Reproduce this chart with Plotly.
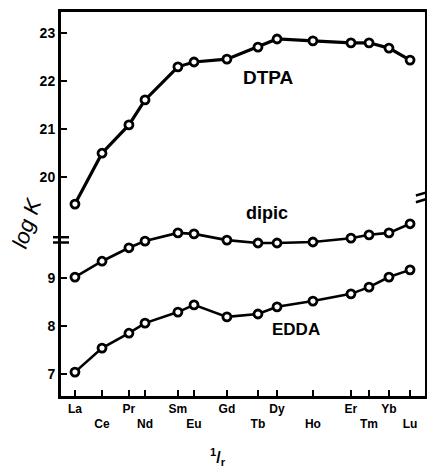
import plotly.graph_objects as go

elements = ["La", "Ce", "Pr", "Nd", "Sm", "Eu", "Gd", "Tb", "Dy", "Ho", "Er", "Tm", "Yb", "Lu"]
inv_r = [0.9400, 0.9590, 0.9779, 0.9892, 1.0123, 1.0236, 1.0467, 1.0685, 1.0819, 1.1071, 1.1338, 1.1465, 1.1605, 1.1753]
dtpa = [19.44, 20.50, 21.09, 21.61, 22.30, 22.40, 22.46, 22.71, 22.88, 22.84, 22.80, 22.80, 22.69, 22.44]
dipic = [9.02, 9.35, 9.63, 9.77, 9.94, 9.92, 9.79, 9.73, 9.73, 9.75, 9.83, 9.90, 9.94, 10.13]
edda = [7.04, 7.54, 7.85, 8.06, 8.29, 8.44, 8.19, 8.25, 8.40, 8.52, 8.67, 8.81, 9.02, 9.17]
low_ticks = [7, 8, 9]
high_ticks = [20, 21, 22, 23]
BREAK_OFFSET = 8.9  # upper (DTPA) segment shifted down past the axis break

INK = "#000000"
FONT = "Liberation Sans"
XRANGE = [0.9302, 1.1858]

fig = go.Figure()

def add_series(vals, width):
    fig.add_trace(go.Scatter(
        x=inv_r, y=vals, mode="lines+markers",
        line=dict(color=INK, width=width),
        marker=dict(symbol="circle", size=8, color="white", line=dict(color=INK, width=2.8)),
        showlegend=False, hoverinfo="skip"))

add_series([v - BREAK_OFFSET for v in dtpa], 3.2)
add_series(dipic, 2.6)
add_series(edda, 2.6)

# invisible trace so the second (lower-row label) x axis is drawn
fig.add_trace(go.Scatter(x=inv_r[1::2], y=edda[1::2], xaxis="x2", mode="markers",
                         marker=dict(opacity=0), showlegend=False, hoverinfo="skip"))

tickvals_y = low_ticks + [v - BREAK_OFFSET for v in high_ticks]
ticktext_y = [f"<b>{v}</b>" for v in low_ticks + high_ticks]

fig.update_layout(
    xaxis=dict(
        range=XRANGE, tickvals=inv_r[0::2], ticktext=[f"<b>{e}</b>" for e in elements[0::2]], tickangle=0,
        ticks="inside", ticklen=6, tickwidth=2, tickcolor=INK,
        showline=True, linewidth=3, linecolor=INK, mirror=True,
        showgrid=False, zeroline=False, automargin=False,
        tickfont=dict(family=FONT, size=12, color=INK)),
    xaxis2=dict(
        range=XRANGE, overlaying="x", side="bottom", anchor="y",
        tickvals=inv_r[1::2], ticktext=[f"<b>{e}</b>" for e in elements[1::2]], tickangle=0,
        ticks="inside", ticklen=6, tickwidth=2, tickcolor=INK, ticklabelstandoff=19,
        showline=False, showgrid=False, zeroline=False, automargin=False,
        tickfont=dict(family=FONT, size=12, color=INK)),
    yaxis=dict(
        range=[6.542, 14.542], tickvals=tickvals_y, ticktext=ticktext_y,
        ticks="inside", ticklen=6, tickwidth=2, tickcolor=INK,
        showline=True, linewidth=3, linecolor=INK, mirror=True,
        showgrid=False, zeroline=False, automargin=False,
        tickfont=dict(family=FONT, size=14, color=INK)),
)

# axis break marks
for yy in (9.85, 9.74):
    fig.add_shape(type="line", xref="paper", yref="y", x0=-0.022, x1=0.022, y0=yy, y1=yy,
                  line=dict(color=INK, width=2.5))
for yy in (10.76, 10.62):
    fig.add_shape(type="line", xref="paper", yref="y", x0=0.975, x1=1.02, y0=yy - 0.04, y1=yy + 0.06,
                  line=dict(color=INK, width=2.5))

labels = [("DTPA", 1.0762, 13.17, 19), ("dipic", 1.0748, 10.36, 18), ("EDDA", 1.0952, 7.92, 17)]
for txt, xx, yy, fs in labels:
    fig.add_annotation(x=xx, y=yy, xref="x", yref="y", text=f"<b>{txt}</b>", showarrow=False,
                       font=dict(family=FONT, size=fs, color=INK))

fig.add_annotation(x=0.43, y=-0.16, xref="paper", yref="paper", text="<b><sup>1</sup>/<sub>r</sub></b>",
                   showarrow=False, xanchor="center", yanchor="middle",
                   font=dict(family=FONT, size=16, color=INK))
fig.add_annotation(x=-0.095, y=0.45, xref="paper", yref="paper", text="<i>log K</i>", textangle=-72,
                   showarrow=False, xanchor="center", yanchor="middle",
                   font=dict(family=FONT, size=22, color=INK))

# page body has an 8px default margin, so the figure is offset by 8px
fig.update_layout(
    width=427, height=463,
    margin=dict(l=53, r=10, t=4, b=75),
    paper_bgcolor="white", plot_bgcolor="white",
    font=dict(family=FONT, color=INK))

fig.write_html("out.html")
